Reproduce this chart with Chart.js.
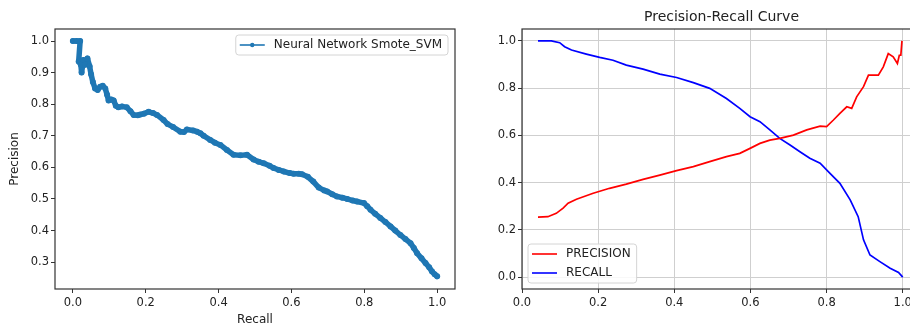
<!DOCTYPE html>
<html>
<head>
<meta charset="utf-8">
<script src="https://cdn.jsdelivr.net/npm/chart.js@4.4.0/dist/chart.umd.min.js"></script>
<style>
  html, body { margin: 0; padding: 0; background: #fff; }
  body { width: 910px; height: 325px; overflow: hidden; position: relative; }
  #left { position: absolute; left: 0; top: 0; }
  #right { position: absolute; left: 460px; top: 0; }
</style>
</head>
<body>
<canvas id="left" width="460" height="340"></canvas>
<canvas id="right" width="465" height="325"></canvas>
<script>
// left plot: precision against recall (Neural Network Smote_SVM)
const nnRecall = [0.000, 0.010, 0.020, 0.016, 0.022, 0.024, 0.029, 0.034, 0.040, 0.046,
  0.050, 0.055, 0.061, 0.068, 0.075, 0.082, 0.089, 0.094, 0.098, 0.105,
  0.112, 0.118, 0.125, 0.135, 0.148, 0.158, 0.167, 0.178, 0.185, 0.195,
  0.208, 0.220, 0.231, 0.249, 0.260, 0.275, 0.295, 0.305, 0.313, 0.330,
  0.341, 0.350, 0.359, 0.377, 0.390, 0.405, 0.423, 0.441, 0.460, 0.478,
  0.496, 0.510, 0.524, 0.540, 0.551, 0.565, 0.579, 0.595, 0.606, 0.620,
  0.629, 0.645, 0.660, 0.675, 0.690, 0.698, 0.712, 0.725, 0.740, 0.753,
  0.768, 0.780, 0.799, 0.808, 0.817, 0.830, 0.844, 0.858, 0.872, 0.885,
  0.899, 0.913, 0.927, 0.936, 0.945, 0.957, 0.968, 0.978, 0.986, 0.993, 1.000]
const nnPrecision = [1.000, 1.000, 1.000, 0.935, 0.925, 0.900, 0.940, 0.925, 0.945, 0.920,
  0.895, 0.870, 0.850, 0.845, 0.855, 0.858, 0.850, 0.830, 0.812, 0.815,
  0.812, 0.795, 0.790, 0.793, 0.790, 0.778, 0.766, 0.765, 0.767, 0.770,
  0.776, 0.772, 0.766, 0.750, 0.737, 0.728, 0.713, 0.712, 0.720, 0.717,
  0.713, 0.708, 0.700, 0.687, 0.678, 0.671, 0.655, 0.640, 0.638, 0.640,
  0.625, 0.618, 0.613, 0.605, 0.598, 0.592, 0.587, 0.582, 0.580, 0.580,
  0.578, 0.570, 0.555, 0.536, 0.527, 0.524, 0.515, 0.508, 0.504, 0.500,
  0.495, 0.492, 0.487, 0.477, 0.466, 0.453, 0.440, 0.427, 0.413, 0.400,
  0.386, 0.373, 0.360, 0.345, 0.328, 0.312, 0.297, 0.284, 0.270, 0.262, 0.255]
const leftXTicks = [0.0, 0.2, 0.4, 0.6, 0.8, 1.0]
const leftYTicks = [0.3, 0.4, 0.5, 0.6, 0.7, 0.8, 0.9, 1.0]

// right plot: precision and recall curves
const precX = [0.042, 0.068, 0.090, 0.108, 0.121, 0.143, 0.187, 0.230, 0.274, 0.318,
  0.362, 0.406, 0.450, 0.493, 0.537, 0.572, 0.599, 0.625, 0.651, 0.677,
  0.713, 0.748, 0.783, 0.800, 0.818, 0.835, 0.853, 0.866, 0.879, 0.897,
  0.910, 0.923, 0.936, 0.949, 0.962, 0.975, 0.986, 0.991, 0.995, 0.998]
const precY = [0.254, 0.256, 0.270, 0.292, 0.313, 0.330, 0.355, 0.376, 0.394, 0.414,
  0.432, 0.451, 0.468, 0.489, 0.510, 0.524, 0.545, 0.566, 0.580, 0.587,
  0.601, 0.623, 0.639, 0.637, 0.665, 0.693, 0.721, 0.714, 0.763, 0.806,
  0.855, 0.855, 0.855, 0.890, 0.946, 0.932, 0.904, 0.939, 0.939, 1.000]
const recX = [0.042, 0.077, 0.099, 0.112, 0.130, 0.169, 0.204, 0.239, 0.274, 0.318,
  0.362, 0.406, 0.450, 0.493, 0.537, 0.572, 0.599, 0.625, 0.651, 0.677,
  0.704, 0.730, 0.756, 0.783, 0.809, 0.835, 0.862, 0.883, 0.897, 0.914,
  0.940, 0.967, 0.989, 1.000]
const recY = [1.000, 1.000, 0.992, 0.975, 0.961, 0.944, 0.930, 0.918, 0.897, 0.880,
  0.859, 0.845, 0.823, 0.799, 0.756, 0.714, 0.679, 0.658, 0.623, 0.587,
  0.559, 0.531, 0.503, 0.482, 0.439, 0.397, 0.327, 0.256, 0.158, 0.094,
  0.066, 0.038, 0.020, 0.000]
const rightXTicks = [0.0, 0.2, 0.4, 0.6, 0.8, 1.0]
const rightYTicks = [0.0, 0.2, 0.4, 0.6, 0.8, 1.0]

const TXT = '#222'
Chart.defaults.font.family = "'DejaVu Sans', sans-serif"
Chart.defaults.color = TXT

const pairs = (xs, ys) => xs.map((x, i) => ({ x: x, y: ys[i] }))
const fixTicks = (vals) => (scale) => { scale.ticks = vals.map(v => ({ value: v })) }
const fmt = (v) => Number(v).toFixed(1)

// box around the axes, like matplotlib spines
const frame = {
  id: 'frame',
  afterDraw(chart) {
    const { ctx, chartArea: a } = chart
    ctx.save()
    ctx.strokeStyle = '#333'
    ctx.lineWidth = 1.2
    ctx.strokeRect(a.left, a.top, a.right - a.left, a.bottom - a.top)
    ctx.restore()
  }
}

// legend drawn inside the axes
const mplLegend = {
  id: 'mplLegend',
  afterDraw(chart, args, opts) {
    const { ctx, chartArea: a } = chart
    const items = chart.data.datasets
    ctx.save()
    ctx.font = "12px 'DejaVu Sans'"
    const textW = Math.max(...items.map(d => ctx.measureText(d.label).width))
    const w = 4 + 25 + 9 + textW + 6
    const h = 20 + (items.length - 1) * 19
    let x, y
    if (opts.corner === 'upper right') {
      x = a.right - 7 - w; y = a.top + 6
    } else {
      x = a.left + 6; y = a.bottom - 6 - h
    }
    ctx.beginPath()
    if (ctx.roundRect) ctx.roundRect(x, y, w, h, 3)
    else ctx.rect(x, y, w, h)
    ctx.fillStyle = 'rgba(255,255,255,0.85)'
    ctx.fill()
    ctx.strokeStyle = '#d4d4d4'
    ctx.lineWidth = 1
    ctx.stroke()
    items.forEach((d, i) => {
      const cy = y + 10 + i * 19
      ctx.beginPath()
      ctx.moveTo(x + 4, cy)
      ctx.lineTo(x + 29, cy)
      ctx.strokeStyle = d.borderColor
      ctx.lineWidth = 1.6
      ctx.stroke()
      if (opts.marker) {
        ctx.beginPath()
        ctx.arc(x + 16.5, cy, 2.2, 0, Math.PI * 2)
        ctx.fillStyle = d.borderColor
        ctx.fill()
      }
      ctx.fillStyle = TXT
      ctx.textBaseline = 'middle'
      ctx.textAlign = 'left'
      ctx.fillText(d.label, x + 38, cy)
    })
    ctx.restore()
  }
}

const tickFont = { size: 11.5 }

new Chart(document.getElementById('left'), {
  type: 'line',
  data: {
    datasets: [{
      label: 'Neural Network Smote_SVM',
      data: pairs(nnRecall, nnPrecision),
      borderColor: '#1f77b4',
      backgroundColor: '#1f77b4',
      borderWidth: 5.5,
      borderJoinStyle: 'round',
      borderCapStyle: 'round',
      pointRadius: 3,
      pointBorderWidth: 0,
      tension: 0
    }]
  },
  options: {
    responsive: false,
    animation: false,
    layout: { padding: { top: 29, right: 5, left: 0, bottom: 0 } },
    plugins: {
      legend: { display: false },
      tooltip: { enabled: false },
      mplLegend: { corner: 'upper right', marker: true }
    },
    scales: {
      x: {
        type: 'linear', min: -0.049, max: 1.049,
        afterBuildTicks: fixTicks(leftXTicks),
        afterFit: (s) => { s.height = 51 },
        ticks: { callback: fmt, font: tickFont, padding: 3, maxRotation: 0 },
        grid: { drawOnChartArea: false, tickLength: 4, tickColor: '#333' },
        border: { display: false },
        title: { display: true, text: 'Recall', font: { size: 12 }, padding: { top: 13, bottom: 13 } }
      },
      y: {
        type: 'linear', min: 0.215, max: 1.038,
        afterBuildTicks: fixTicks(leftYTicks),
        afterFit: (s) => { s.width = 55 },
        ticks: { callback: fmt, font: tickFont, padding: 2 },
        grid: { drawOnChartArea: false, tickLength: 4, tickColor: '#333' },
        border: { display: false },
        title: { display: true, text: 'Precision', font: { size: 12 }, padding: { top: 8, bottom: 8 } }
      }
    }
  },
  plugins: [frame, mplLegend]
})

new Chart(document.getElementById('right'), {
  type: 'line',
  data: {
    datasets: [
      {
        label: 'PRECISION',
        data: pairs(precX, precY),
        borderColor: 'red',
        borderWidth: 1.7,
        pointRadius: 0,
        tension: 0
      },
      {
        label: 'RECALL',
        data: pairs(recX, recY),
        borderColor: 'blue',
        borderWidth: 1.7,
        pointRadius: 0,
        tension: 0
      }
    ]
  },
  options: {
    responsive: false,
    animation: false,
    layout: { padding: { top: 0, right: 4, left: 0, bottom: 0 } },
    plugins: {
      legend: { display: false },
      tooltip: { enabled: false },
      title: {
        display: true, text: 'Precision-Recall Curve', fullSize: false,
        color: TXT, font: { size: 14, weight: 'normal', lineHeight: 1.2 },
        padding: { top: 8.5, bottom: 3.7 }
      },
      mplLegend: { corner: 'lower left', marker: false }
    },
    scales: {
      x: {
        type: 'linear', min: 0, max: 1.048,
        afterBuildTicks: fixTicks(rightXTicks),
        afterFit: (s) => { s.height = 36 },
        ticks: { callback: fmt, font: tickFont, padding: 3, maxRotation: 0 },
        grid: { color: '#cfcfcf', lineWidth: 1, tickLength: 4, tickColor: '#333' },
        border: { display: false }
      },
      y: {
        type: 'linear', min: -0.05, max: 1.05,
        afterBuildTicks: fixTicks(rightYTicks),
        afterFit: (s) => { s.width = 62 },
        ticks: { callback: fmt, font: tickFont, padding: 2 },
        grid: { color: '#cfcfcf', lineWidth: 1, tickLength: 4, tickColor: '#333' },
        border: { display: false }
      }
    }
  },
  plugins: [frame, mplLegend]
})
</script>
</body>
</html>
